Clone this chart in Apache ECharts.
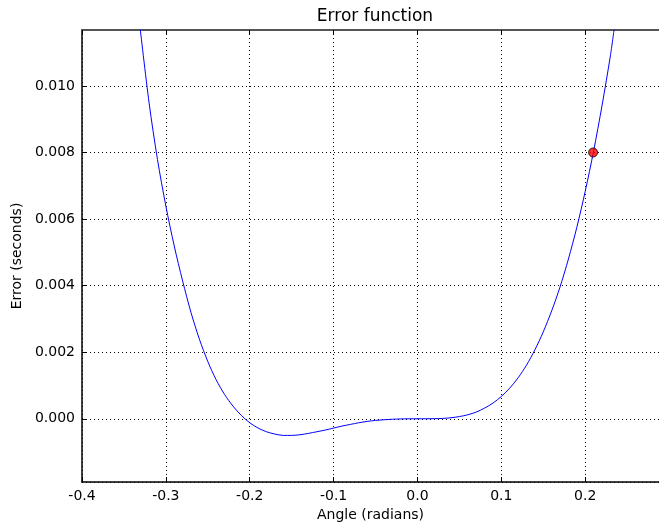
<!DOCTYPE html>
<html>
<head>
<meta charset="utf-8">
<script src="https://cdn.jsdelivr.net/npm/echarts@6/dist/echarts.min.js"></script>
<style>html,body{margin:0;padding:0;background:#fff}#c{width:659px;height:527px}</style>
</head>
<body>
<div id="c"></div>
<script>
const angles = [-0.331, -0.32, -0.31, -0.30, -0.29, -0.28, -0.27, -0.26, -0.25, -0.24, -0.23, -0.22, -0.21, -0.20, -0.19, -0.18, -0.17, -0.16, -0.15, -0.14, -0.13, -0.12, -0.11, -0.10, -0.09, -0.08, -0.07, -0.06, -0.05, -0.04, -0.03, -0.02, -0.01, 0, 0.01, 0.02, 0.03, 0.04, 0.05, 0.06, 0.07, 0.08, 0.09, 0.10, 0.11, 0.12, 0.13, 0.14, 0.15, 0.16, 0.17, 0.18, 0.19, 0.20, 0.21, 0.22, 0.23, 0.2345];
const errors = [0.0118, 0.00949, 0.00779, 0.00639, 0.00519, 0.00414, 0.00319, 0.00239, 0.00172, 0.00117, 0.00073, 0.00038, 0.00010, -0.00012, -0.00028, -0.00039, -0.00046, -0.00050, -0.00050, -0.00048, -0.00044, -0.00039, -0.00034, -0.00028, -0.00022, -0.00017, -0.00012, -0.00008, -0.00005, -0.00003, -0.000015, -0.000006, -0.000001, 0, 0, 0.000003, 0.00001, 0.00003, 0.000066, 0.00012, 0.0002, 0.00032, 0.00047, 0.00067, 0.00092, 0.00123, 0.00161, 0.00207, 0.00261, 0.00324, 0.00396, 0.0048, 0.00575, 0.00683, 0.00804, 0.0094, 0.0109, 0.0117];
const markerPoint = [0.2094, 0.008];
const xTicks = [-0.4, -0.3, -0.2, -0.1, 0.0, 0.1, 0.2];
const yTicks = [0.000, 0.002, 0.004, 0.006, 0.008, 0.010];

const FONT = 'DejaVu Sans';
const chart = echarts.init(document.getElementById('c'), null, {renderer: 'canvas'});
const curve = angles.map((a, i) => [a, errors[i]]);
const fmtX = v => { const r = Math.round(v * 10) / 10; return xTicks.some(t => Math.abs(t - r) < 1e-9) && Math.abs(r - v) < 1e-9 ? (Math.abs(r) < 1e-9 ? '0.0' : r.toFixed(1)) : ''; };
const fmtY = v => { const r = Math.round(v * 1000) / 1000; return yTicks.some(t => Math.abs(t - r) < 1e-12) && Math.abs(r - v) < 1e-9 ? (Math.abs(r) < 1e-12 ? '0.000' : r.toFixed(3)) : ''; };
const dotted = {color: '#000', width: 1, type: [1, 3]};
chart.setOption({
  animation: false,
  backgroundColor: '#fff',
  title: {text: 'Error function', left: 370, top: 3, textAlign: 'center',
    textStyle: {fontFamily: FONT, fontSize: 17, fontWeight: 'normal', color: '#000'}},
  grid: {left: 82, right: 0, top: 30, bottom: 45, containLabel: false},
  xAxis: [{
    type: 'value', min: -0.4, max: 0.288, interval: 0.1, position: 'bottom',
    name: 'Angle (radians)', nameLocation: 'middle', nameGap: 25,
    nameTextStyle: {fontFamily: FONT, fontSize: 14, color: '#000'},
    axisLine: {show: true, onZero: false, lineStyle: {color: '#000', width: 1.5}},
    axisTick: {show: true, inside: true, length: 5, lineStyle: {color: '#000'}},
    axisLabel: {formatter: fmtX, showMaxLabel: false, margin: 7, fontFamily: FONT, fontSize: 14, color: '#000'},
    splitLine: {show: true, lineStyle: dotted}
  }, {
    type: 'value', min: -0.4, max: 0.288, interval: 0.1, position: 'top',
    axisLine: {show: true, onZero: false, lineStyle: {color: '#555', width: 2}},
    axisTick: {show: true, inside: true, length: 5, lineStyle: {color: '#000'}},
    axisLabel: {show: false}, splitLine: {show: false}
  }],
  yAxis: [{
    type: 'value', min: -0.0019, max: 0.01168, splitNumber: 7,
    name: 'Error (seconds)', nameLocation: 'middle', nameGap: 57,
    nameTextStyle: {fontFamily: FONT, fontSize: 14, color: '#000'},
    axisLine: {show: true, onZero: false, lineStyle: {color: '#000', width: 1.5}},
    axisTick: {show: true, inside: true, length: 5, lineStyle: {color: '#000'}},
    axisLabel: {formatter: fmtY, showMinLabel: false, showMaxLabel: false, margin: 7, fontFamily: FONT, fontSize: 14, color: '#000'},
    splitLine: {show: true, lineStyle: dotted}
  }],
  series: [{
    type: 'line', data: curve, smooth: 0.3, showSymbol: false, clip: true,
    lineStyle: {color: '#0000ff', width: 1}, z: 3
  }, {
    type: 'scatter', data: [markerPoint], symbol: 'circle', symbolSize: 9,
    itemStyle: {color: '#ff0000', borderColor: '#000', borderWidth: 1}, z: 4
  }]
});
</script>
</body>
</html>
